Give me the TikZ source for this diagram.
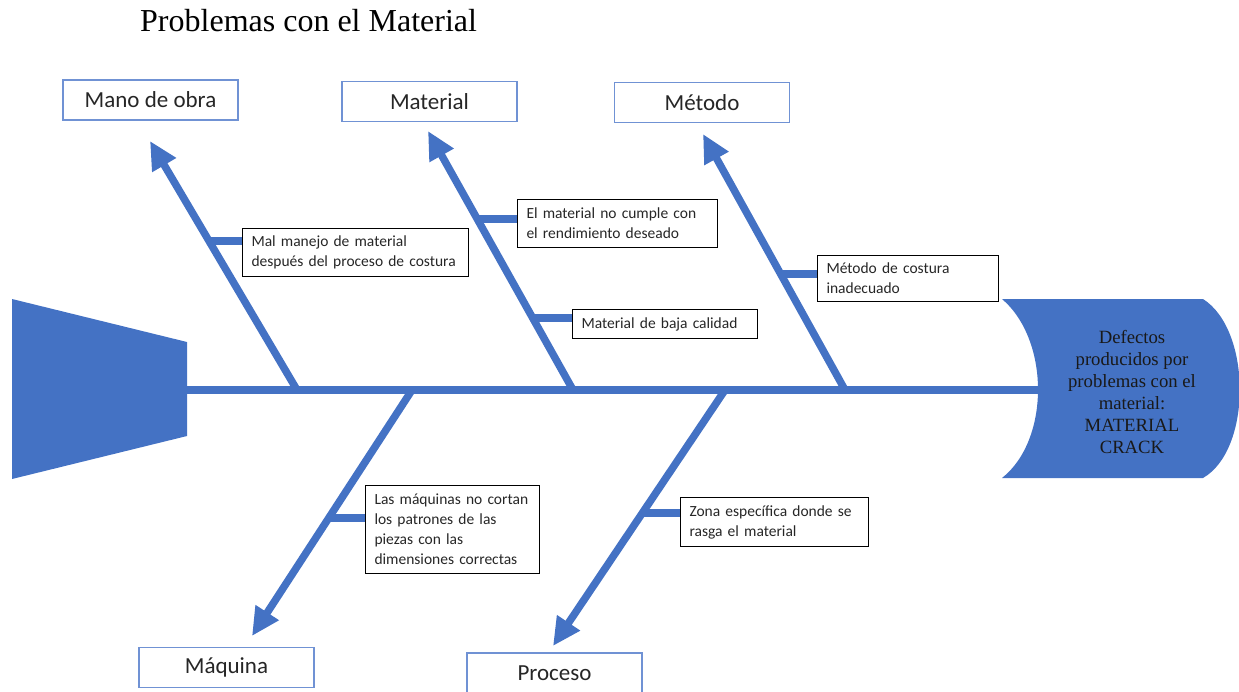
\documentclass[tikz,border=0pt]{standalone}
\usepackage{fontspec}
\setmainfont{Liberation Serif}
\newfontfamily\calibri{Carlito}
\usetikzlibrary{arrows.meta,calc}
\definecolor{fbblue}{RGB}{68,114,196}
\definecolor{boxblue}{RGB}{112,146,212}
\begin{document}
\begin{tikzpicture}[x=1pt,y=-1pt,
  bone/.style={line width=7.5pt, draw=fbblue},
  arrowbone/.style={bone, -{Triangle[length=28pt,width=26pt]}},
  catbox/.style={draw=boxblue, line width=1.2pt, minimum height=40pt, minimum width=175pt, inner sep=0pt, font=\calibri\fontsize{23}{27}\selectfont, text=black!85},
  causebox/.style={draw=black, line width=1pt, anchor=north west, inner xsep=9pt, inner ysep=0pt, align=left, font=\calibri\fontsize{15.5}{20}\selectfont, text=black!85},
  headtext/.style={align=center, font=\fontsize{18.7}{22}\selectfont, text=black!90}
]
\useasboundingbox (0,0) rectangle (1239,691);
\clip (0,0) rectangle (1239,691);

% title
\node[anchor=base west, font=\fontsize{32}{38}\selectfont, inner sep=0pt] (title) at (140,31) {Problemas con el Material};

% tail
\fill[fbblue] (12,299) -- (187,342) -- (187,436) -- (12,479) -- cycle;
\coordinate (tailR) at (186,390);

% head
\fill[fbblue] (1002,299) -- (1203,299) .. controls (1252,330) and (1252,450) .. (1203,478)
  -- (1002,478) .. controls (1050,440) and (1050,340) .. (1002,299) -- cycle;
\coordinate (headL) at (1038,390);
\node[headtext] (head) at (1132,392) {Defectos\\producidos por\\problemas con el\\material:\\MATERIAL\\CRACK};

% spine
\draw[bone] (tailR) -- (headL);

% spine joints and arrow tips
\coordinate (jMO) at (297,390);  \coordinate (tMO) at (150,141);
\coordinate (jMA) at (573,390);  \coordinate (tMA) at (428,131);
\coordinate (jME) at (845,390);  \coordinate (tME) at (703,134);
\coordinate (jMQ) at (412,390);  \coordinate (tMQ) at (252,636);
\coordinate (jPR) at (725,390);  \coordinate (tPR) at (553,646);

\draw[arrowbone] (jMO) -- (tMO);
\draw[arrowbone] (jMA) -- (tMA);
\draw[arrowbone] (jME) -- (tME);
\draw[arrowbone] (jMQ) -- (tMQ);
\draw[arrowbone] (jPR) -- (tPR);

% category boxes
\node[catbox] (cMO) at (150.5,100) {Mano de obra};
\node[catbox] (cMA) at (429.5,101.5) {Material};
\node[catbox] (cME) at (702,102.5) {Método};
\node[catbox] (cMQ) at (226.5,667.5) {Máquina};
\node[catbox] (cPR) at (554.5,673) {Proceso};

% cause boxes
\node[causebox, text width=208pt, minimum height=48pt] (s1) at (242,228) {Mal manejo de material\\después del proceso de costura};
\node[causebox, text width=182pt, minimum height=48pt] (s2) at (517,199) {El material no cumple con\\el rendimiento deseado};
\node[causebox, text width=167pt, minimum height=29pt] (s3) at (572,309) {Material de baja calidad};
\node[causebox, text width=163pt, minimum height=46pt] (s4) at (817,255) {Método de costura\\inadecuado};
\node[causebox, text width=156pt, minimum height=88pt] (s5) at (365,485) {Las máquinas no cortan\\los patrones de las\\piezas con las\\dimensiones correctas};
\node[causebox, text width=170pt, minimum height=49pt] (s6) at (680,497) {Zona específica donde se\\rasga el material};

% sub-bone joints
\coordinate (b1) at ($(jMO)!{149/249}!(tMO)$);
\coordinate (b2) at ($(jMA)!{171/259}!(tMA)$);
\coordinate (b3) at ($(jMA)!{72/259}!(tMA)$);
\coordinate (b4) at ($(jME)!{116/256}!(tME)$);
\coordinate (b5) at ($(jMQ)!{128/246}!(tMQ)$);
\coordinate (b6) at ($(jPR)!{123/256}!(tPR)$);

\draw[bone] (b1) -- (b1 -| s1.west);
\draw[bone] (b2) -- (b2 -| s2.west);
\draw[bone] (b3) -- (b3 -| s3.west);
\draw[bone] (b4) -- (b4 -| s4.west);
\draw[bone] (b5) -- (b5 -| s5.west);
\draw[bone] (b6) -- (b6 -| s6.west);
\end{tikzpicture}
\end{document}
